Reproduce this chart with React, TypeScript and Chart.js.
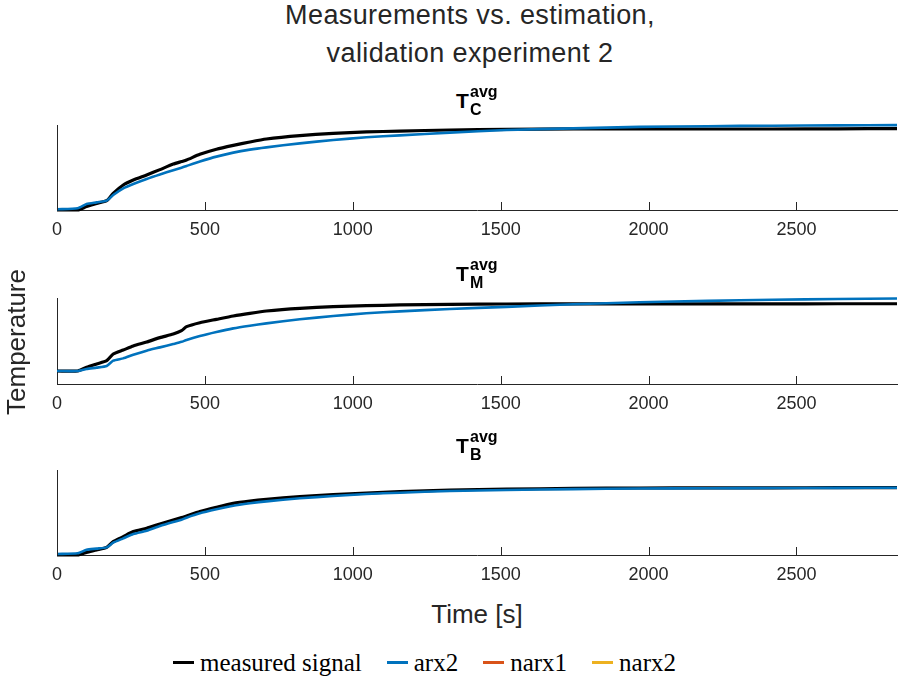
import React, { useEffect, useRef } from "react";
import { Chart, registerables } from "chart.js";

Chart.register(...registerables);

// ---- data ----
const TIME = [0, 70, 100, 134, 168, 190, 224, 258, 303, 348, 393, 421, 438, 483, 539, 596, 652, 708, 821, 934, 1046, 1159, 1328, 1520, 1745, 1970, 2200, 2420, 2640, 2840];

const MEAS_C = [0, 0, 0.04, 0.078, 0.11, 0.196, 0.294, 0.353, 0.412, 0.475, 0.54, 0.57, 0.588, 0.655, 0.715, 0.76, 0.8, 0.835, 0.875, 0.902, 0.918, 0.929, 0.941, 0.948, 0.955, 0.953, 0.953, 0.953, 0.955, 0.958];
const ARX2_C = [0.008, 0.02, 0.07, 0.09, 0.11, 0.176, 0.255, 0.306, 0.365, 0.418, 0.468, 0.498, 0.518, 0.57, 0.628, 0.675, 0.71, 0.737, 0.784, 0.824, 0.855, 0.878, 0.91, 0.941, 0.96, 0.978, 0.986, 0.992, 0.996, 0.998];

const MEAS_M = [0.151, 0.151, 0.194, 0.233, 0.271, 0.349, 0.395, 0.442, 0.488, 0.539, 0.581, 0.62, 0.667, 0.713, 0.752, 0.791, 0.822, 0.849, 0.88, 0.899, 0.911, 0.919, 0.927, 0.93, 0.932, 0.932, 0.932, 0.932, 0.933, 0.933];
const ARX2_M = [0.151, 0.151, 0.174, 0.19, 0.209, 0.271, 0.298, 0.341, 0.388, 0.426, 0.465, 0.49, 0.512, 0.558, 0.605, 0.647, 0.678, 0.705, 0.752, 0.791, 0.822, 0.845, 0.872, 0.897, 0.927, 0.95, 0.967, 0.979, 0.988, 0.995];

const MEAS_B = [0, 0, 0.031, 0.059, 0.09, 0.157, 0.216, 0.275, 0.314, 0.365, 0.412, 0.44, 0.459, 0.51, 0.561, 0.608, 0.635, 0.655, 0.686, 0.71, 0.729, 0.745, 0.765, 0.775, 0.783, 0.788, 0.79, 0.79, 0.792, 0.793];
const ARX2_B = [0.012, 0.02, 0.062, 0.075, 0.09, 0.145, 0.196, 0.247, 0.286, 0.341, 0.388, 0.415, 0.439, 0.49, 0.537, 0.58, 0.608, 0.631, 0.667, 0.694, 0.718, 0.733, 0.753, 0.765, 0.775, 0.782, 0.786, 0.788, 0.79, 0.792];

const X_TICKS = [0, 500, 1000, 1500, 2000, 2500];
const X_MAX = 2840;

const TITLE_LINES = ["Measurements vs. estimation,", "validation experiment 2"];
const SUBPLOT_SUBS = ["C", "M", "B"];
const LEGEND = [
  { label: "measured signal", color: "#000000" },
  { label: "arx2", color: "#0072BD" },
  { label: "narx1", color: "#D95319" },
  { label: "narx2", color: "#EDB120" },
];

const AXIS_COLOR = "#262626";
const SANS = "'Liberation Sans', Arial, Helvetica, sans-serif";
const SERIF = "'Liberation Serif', 'DejaVu Serif', serif";

// layout of the three panels: axis top (chart area top) and bottom
const PANELS = [
  { top: 125, bottom: 210, meas: MEAS_C, arx: ARX2_C, sub: SUBPLOT_SUBS[0] },
  { top: 298, bottom: 384, meas: MEAS_M, arx: ARX2_M, sub: SUBPLOT_SUBS[1] },
  { top: 470, bottom: 555, meas: MEAS_B, arx: ARX2_B, sub: SUBPLOT_SUBS[2] },
];

const PAD_TOP = 10;
const XAXIS_H = 32;
const TICK_LEN = 8;

// inward tick marks on the x axis, positioned through the x scale
const inwardTicks = {
  id: "inwardTicks",
  afterDraw(chart: any) {
    const x = chart.scales.x;
    const ctx = chart.ctx;
    const yb = Math.round(chart.chartArea.bottom);
    ctx.save();
    ctx.strokeStyle = AXIS_COLOR;
    ctx.lineWidth = 1;
    ctx.beginPath();
    for (const v of X_TICKS) {
      const px = Math.round(x.getPixelForValue(v)) + 0.5;
      ctx.moveTo(px, yb);
      ctx.lineTo(px, yb - TICK_LEN);
    }
    ctx.stroke();
    ctx.restore();
  },
};

function Panel({ meas, arx, top, bottom }: any) {
  const ref = useRef<HTMLCanvasElement>(null);
  const canvasTop = top - PAD_TOP;
  const h = bottom - canvasTop + XAXIS_H;
  useEffect(() => {
    if (!ref.current) return;
    const chart = new Chart(ref.current, {
      type: "line",
      data: {
        datasets: [
          {
            label: "arx2",
            data: TIME.map((t, i) => ({ x: t, y: arx[i] })),
            borderColor: "#0072BD",
            borderWidth: 2.6,
            pointRadius: 0,
            tension: 0.2,
            order: 1,
            clip: false as any,
          },
          {
            label: "measured signal",
            data: TIME.map((t, i) => ({ x: t, y: meas[i] })),
            borderColor: "#000000",
            borderWidth: 3.2,
            pointRadius: 0,
            tension: 0.2,
            order: 2,
            clip: false as any,
          },
        ],
      },
      options: {
        animation: false,
        responsive: false,
        devicePixelRatio: 1,
        layout: { padding: { left: 57, right: 1, top: PAD_TOP, bottom: 0 } },
        plugins: {
          legend: { display: false },
          tooltip: { enabled: false },
          title: { display: false },
        },
        scales: {
          x: {
            type: "linear",
            min: 0,
            max: X_MAX,
            afterBuildTicks: (s: any) => {
              s.ticks = X_TICKS.map((v) => ({ value: v }));
            },
            afterFit: (s: any) => {
              s.height = XAXIS_H;
            },
            grid: { display: false, drawTicks: false },
            border: { display: true, color: AXIS_COLOR, width: 1 },
            ticks: {
              padding: 9,
              color: AXIS_COLOR,
              font: { family: SANS, size: 18 },
              maxRotation: 0,
              autoSkip: false,
              callback: (v: any) => String(v),
            },
          },
          y: {
            min: 0,
            max: 1,
            ticks: { display: false },
            grid: { display: false, drawTicks: false },
            border: { display: true, color: AXIS_COLOR, width: 1 },
          },
        },
      } as any,
      plugins: [inwardTicks],
    });
    return () => chart.destroy();
  }, []);
  return (
    <canvas
      ref={ref}
      width={898}
      height={h}
      style={{ position: "absolute", left: 0, top: canvasTop, width: 898, height: h }}
    />
  );
}

function SubTitle({ axisTop, sub }: any) {
  const tBase = axisTop - 17;
  const supBase = axisTop - 27;
  const subBase = axisTop - 9;
  const common: any = { position: "absolute", fontFamily: SANS, fontWeight: "bold", color: "#000", whiteSpace: "nowrap" };
  return (
    <>
      <div style={{ ...common, left: 456, top: tBase - 0.8465 * 21, fontSize: 21, lineHeight: "21px" }}>T</div>
      <div style={{ ...common, left: 470, top: supBase - 0.8465 * 16, fontSize: 16, lineHeight: "16px" }}>avg</div>
      <div style={{ ...common, left: 470, top: subBase - 0.8465 * 16, fontSize: 16, lineHeight: "16px" }}>{sub}</div>
    </>
  );
}

export default function App() {
  return (
    <div style={{ position: "absolute", left: 0, top: 0, width: 898, height: 686, background: "#fff", overflow: "hidden" }}>
      {TITLE_LINES.map((line, i) => (
        <div
          key={i}
          style={{
            position: "absolute",
            left: 0,
            width: 940,
            textAlign: "center",
            top: [25, 63][i] - 0.8465 * 27,
            fontFamily: SANS,
            fontSize: 27,
            lineHeight: "27px",
            letterSpacing: "0.4px",
            color: AXIS_COLOR,
            whiteSpace: "nowrap",
          }}
        >
          {line}
        </div>
      ))}
      {PANELS.map((p, i) => (
        <React.Fragment key={i}>
          <Panel {...p} />
          <SubTitle axisTop={p.top} sub={p.sub} />
        </React.Fragment>
      ))}
      <div
        style={{
          position: "absolute",
          left: 25 - 0.8465 * 26,
          top: 342,
          width: 200,
          height: 26,
          marginLeft: -100 + 13,
          marginTop: -13,
          fontFamily: SANS,
          fontSize: 26,
          lineHeight: "26px",
          color: AXIS_COLOR,
          textAlign: "center",
          transform: "rotate(-90deg)",
          whiteSpace: "nowrap",
        }}
      >
        Temperature
      </div>
      <div
        style={{
          position: "absolute",
          left: 0,
          width: 954,
          textAlign: "center",
          top: 623 - 0.8465 * 26,
          fontFamily: SANS,
          fontSize: 26,
          lineHeight: "26px",
          color: AXIS_COLOR,
        }}
      >
        Time [s]
      </div>
      <div
        style={{
          position: "absolute",
          left: 173,
          top: 671 - 0.85 * 25,
          display: "flex",
          alignItems: "center",
          fontFamily: SERIF,
          fontSize: 25,
          lineHeight: "25px",
          color: "#000",
          whiteSpace: "nowrap",
        }}
      >
        {LEGEND.map((e, i) => (
          <span key={i} style={{ display: "inline-flex", alignItems: "center", marginRight: i < LEGEND.length - 1 ? 25 : 0 }}>
            <span style={{ display: "inline-block", width: 21, height: 3, background: e.color, marginRight: 6 }} />
            <span>{e.label}</span>
          </span>
        ))}
      </div>
    </div>
  );
}
